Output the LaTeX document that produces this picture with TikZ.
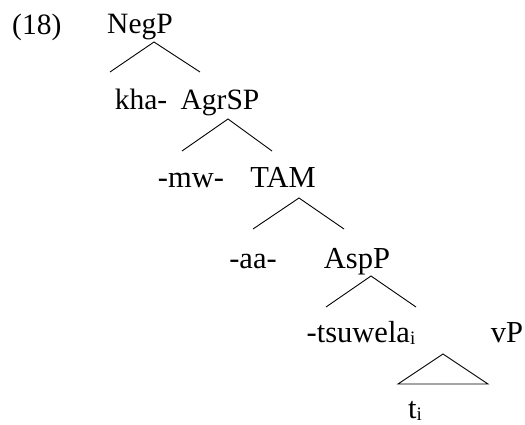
\documentclass[tikz,border=0pt]{standalone}
\usepackage{fontspec}
\setmainfont{Liberation Serif}
% subscript index, lowered only a little
\newcommand{\idx}[1]{\raisebox{-2pt}{\fontsize{19}{19}\selectfont #1}}
\begin{document}
\begin{tikzpicture}[x=1pt,y=-1pt,
  lbl/.style={anchor=base,inner sep=0pt,font=\fontsize{29.5}{29.5}\selectfont},
  lowlbl/.style={anchor=base,inner sep=0pt,font=\fontsize{30.5}{30.5}\selectfont},
  lbll/.style={anchor=base west,inner sep=0pt,font=\fontsize{29.5}{29.5}\selectfont},
  branch/.style={line width=0.9pt}]
\useasboundingbox (0,0) rectangle (525,425);
% example number
\node[lbll] (num) at (12,35) {(18)};
% node labels
\node[lbl] (neg) at (140,34) {NegP};
\node[lbl] (kha) at (141,110) {kha-};
\node[lbl] (agr) at (220,110) {AgrSP};
\node[lowlbl] (mw) at (191,188) {-mw-};
\node[lowlbl] (tam) at (283,188) {TAM};
\node[lowlbl] (aa) at (253,268) {-aa-};
\node[lowlbl] (asp) at (357,268) {AspP};
\node[lowlbl] (tsu) at (361,342) {-tsuwela\idx{i}};
\node[lowlbl] (vp) at (507,342) {vP};
\node[lowlbl] (ti) at (415,418) {t\idx{i}};
% branch points
\coordinate (negA) at (154,42);
\coordinate (negL) at (110,72);
\coordinate (negR) at (200,72);
\coordinate (agrA) at (228,119);
\coordinate (agrL) at (182,151);
\coordinate (agrR) at (272,151);
\coordinate (tamA) at (299,198);
\coordinate (tamL) at (253,229);
\coordinate (tamR) at (344,229);
\coordinate (aspA) at (371,276);
\coordinate (aspL) at (326,307);
\coordinate (aspR) at (416,307);
\coordinate (triA) at (443,354);
\coordinate (triL) at (398,384);
\coordinate (triR) at (488,384);
% branches
\draw[branch] (negL) -- (negA) -- (negR);
\draw[branch] (agrL) -- (agrA) -- (agrR);
\draw[branch] (tamL) -- (tamA) -- (tamR);
\draw[branch] (aspL) -- (aspA) -- (aspR);
\draw[branch] (triL) -- (triA) -- (triR) -- cycle;
\end{tikzpicture}
\end{document}
